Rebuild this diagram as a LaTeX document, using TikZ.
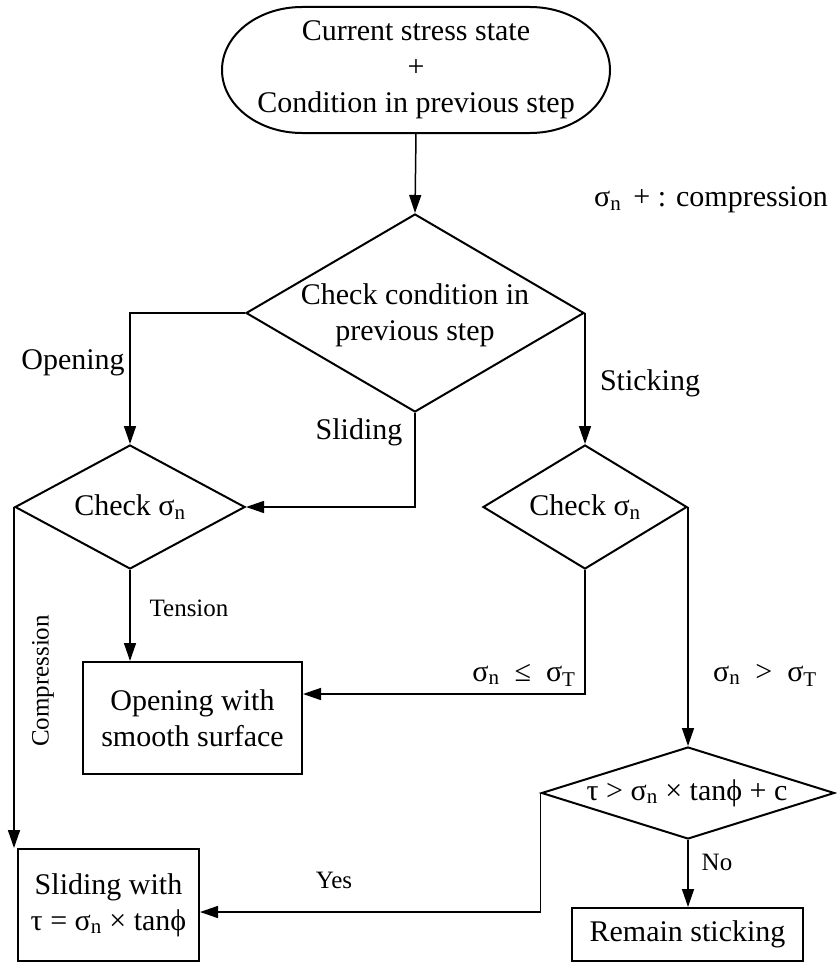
\documentclass[tikz,border=0pt]{standalone}
\usepackage{fontspec}
\setmainfont{Liberation Serif}
\usetikzlibrary{shapes.geometric,arrows.meta}
\newcommand{\sgn}{σ\textsubscript{n}}
\newcommand{\sgT}{σ\textsubscript{T}}
\begin{document}
\begin{tikzpicture}[x=1pt,y=-1pt,
  big/.style={font=\fontsize{30}{36}\selectfont},
  small/.style={font=\fontsize{25}{30}\selectfont},
  maintxt/.style={big,align=center,inner sep=0pt},
  dia/.style={diamond,draw,line width=2pt,inner sep=0pt},
  boxx/.style={rectangle,draw,line width=2pt,inner sep=0pt,align=center,big},
  conn/.style={line width=1.5pt,-{Triangle[length=18pt,width=12pt]}},
  plain/.style={line width=1.5pt}]
\useasboundingbox (0,0) rectangle (836,963);
% start terminal
\draw[line width=2pt] (302,7) -- (530,7)
  arc[start angle=-90,end angle=90,x radius=80,y radius=63]
  -- (302,133)
  arc[start angle=90,end angle=270,x radius=80,y radius=63] -- cycle;
\node[maintxt,minimum width=388pt,minimum height=126pt] (start) at (416,70)
  {Current stress state\\+\\Condition in previous step};
% decisions
\node[dia,minimum width=338pt,minimum height=198pt] (d0) at (415,313) {};
\node[maintxt] (t0) at (415,315) {Check condition in\\previous step};
\node[dia,minimum width=230pt,minimum height=124pt] (d1) at (130,507) {};
\node[maintxt] (t1) at (130,507) {Check \sgn};
\node[dia,minimum width=204pt,minimum height=124pt] (d2) at (585,507) {};
\node[maintxt] (t2) at (585,507) {Check \sgn};
\node[dia,minimum width=293pt,minimum height=92pt] (d3) at (688,793) {};
\node[maintxt] (t3) at (687,793) {τ > \sgn{} × tanϕ + c};
% boxes
\node[boxx,minimum width=219pt,minimum height=112pt] (b1) at (192.5,718) {Opening with\\smooth surface};
\node[boxx,minimum width=181pt,minimum height=112pt] (b2) at (108.5,905) {Sliding with\\τ = \sgn{} × tanϕ};
\node[boxx,minimum width=231pt,minimum height=53pt] (b3) at (687.5,934.5) {Remain sticking};
% junction levels
\coordinate (j1) at (585,694);
\coordinate (j2) at (540,912);
% connectors
\draw[conn] (start.south) -- (d0.north);
\draw[conn] (d0.west) -| (d1.north);
\draw[conn] (d0.east) -- (d0.east |- d2.north);
\draw[conn] (d0.south) |- (d1.east);
\draw[conn] (d1.south) -- (d1.south |- b1.north);
\draw[conn] (d1.west) -- (d1.west |- b2.north);
\draw[conn] (d2.south) -- (d2.south |- j1) -- (j1 -| b1.east);
\draw[conn] (d2.east) -- (d2.east |- d3.north);
\draw[conn] (d3.west) -- (d3.west |- j2) -- (j2 -| b2.east);
\draw[conn] (d3.south) -- (d3.south |- b3.north);
% labels
\node[big] (lop) at (73,363) {Opening};
\node[big] (lst) at (650,383) {Sticking};
\node[big] (lsl) at (359,432) {Sliding};
\node[small] (lte) at (189,608) {Tension};
\node[small,rotate=90] (lco) at (43,681) {Compression};
\node[big] (lle) at (524,675) {\sgn\hspace{0.5em}≤\hspace{0.5em}\sgT};
\node[big] (lgt) at (765,675) {\sgn\hspace{0.5em}>\hspace{0.5em}\sgT};
\node[small] (lye) at (334,880) {Yes};
\node[small] (lno) at (717,862) {No};
\node[big] (note) at (711,200) {\sgn\hspace{0.4em}+ : compression};
\end{tikzpicture}
\end{document}
